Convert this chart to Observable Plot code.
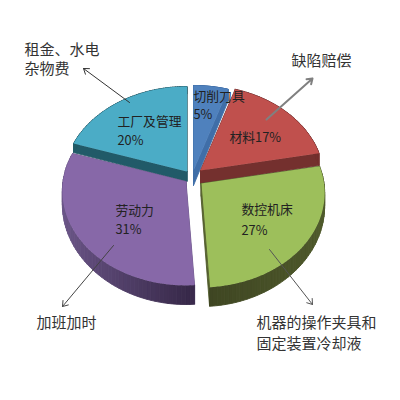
<!DOCTYPE html>
<html>
<head>
<meta charset="utf-8">
<style>html,body{margin:0;padding:0;background:#fff}svg{display:block}</style>
<script src="https://cdn.jsdelivr.net/npm/d3@7"></script>
<script src="https://cdn.jsdelivr.net/npm/@observablehq/plot@0.6"></script>
</head>
<body>
<div id="chart"></div>
<script>
// Data
const categories = ["切削刀具", "材料", "数控机床", "劳动力", "工厂及管理"];
const shares = [5, 17, 27, 31, 20];
const innerName = ["切削刀具", "材料17%", "数控机床", "劳动力", "工厂及管理"];
const innerPct = ["5%", "", "27%", "31%", "20%"];
const outerLabels = ["租金、水电", "杂物费", "缺陷赔偿", "加班加时", "机器的操作夹具和", "固定装置冷却液"];

// Styles
const topColors = ["#4f81bd", "#c0504d", "#9dbf5b", "#8768a8", "#4bacc6"];
const wallLight = ["#3f6ea8", "#74302e", "#505b2c", "#6c5789", "#215a68"];
const wallDark = ["#3f6ea8", "#6a2a2a", "#3e4522", "#38294a", "#1f5360"];

// Pie geometry (tilted disc with mild perspective, exploded slices)
const RX = 123, RY = 93.5, K = 0.1, KH = 0.32;
const wallH = [15, 13, 13, 13, 10];
const centre = [193, 176];
const explodeX = [0, 7, 7.5, -7.5, -6.5];
const explodeY = [-6, -6, 7, 5, -5];

const pie = d3.pie().sort(null).startAngle(0).endAngle(2 * Math.PI)(shares);

function pt(i, a, r, low) {
  const z = r * Math.cos(a), w = 1 + K * z;
  return {
    x: centre[0] + explodeX[i] + RX * r * Math.sin(a) / w,
    y: centre[1] + explodeY[i] - RY * z / w + (low ? wallH[i] / (1 + KH * z) : 0)
  };
}
function arcAngles(s) {
  return d3.range(0, 61).map(j => s.startAngle + (s.endAngle - s.startAngle) * j / 60);
}
const marks = [];
for (const i of [4, 0, 1, 3, 2]) {
  const s = pie[i], ang = arcAngles(s);
  const walls = [];
  let seg = 0;
  const addQuad = (p, q, fill) => {
    seg++;
    const a = pt(i, p[0], p[1], false);
    for (const c of [a, pt(i, q[0], q[1], false), pt(i, q[0], q[1], true), pt(i, p[0], p[1], true), a])
      walls.push({...c, seg, fill});
  };
  addQuad([s.startAngle, 0], [s.startAngle, 1], wallLight[i]);
  addQuad([s.endAngle, 0], [s.endAngle, 1], wallLight[i]);
  const mix = d3.interpolateRgb(wallLight[i], wallDark[i]);
  ang.slice(1).forEach((a, j) => {
    const t = 1 - Math.abs(Math.sin(a));
    addQuad([ang[j], 1], [a, 1], mix(t));
  });
  marks.push(Plot.line(walls, {x: "x", y: "y", z: "seg", fill: "fill", stroke: "fill", strokeWidth: 0.9}));
  const face = [pt(i, 0, 0, false), ...ang.map(a => pt(i, a, 1, false))];
  face.push(face[0]);
  marks.push(Plot.line(face, {x: "x", y: "y", fill: topColors[i], stroke: "none"}));
  if (i === 2) {
    marks.push(Plot.line([pt(i, s.endAngle, 0, false), pt(i, s.endAngle, 1, false)], {x: "x", y: "y", stroke: "#5a6630", strokeWidth: 1}));
  }
}

// Leaders
const leaders = [
  {x1: 129, y1: 102, x2: 83, y2: 68, c: "#333", w: 1},
  {x1: 266, y1: 119, x2: 312, y2: 78, c: "#808080", w: 2},
  {x1: 113, y1: 245, x2: 62, y2: 306, c: "#444", w: 1},
  {x1: 269, y1: 249, x2: 312, y2: 304, c: "#555", w: 1}
];
marks.push(Plot.arrow(leaders, {x1: "x1", y1: "y1", x2: "x2", y2: "y2", stroke: "c", strokeWidth: "w", bend: 0, headLength: 9, headAngle: 70}));

// Text
const font = {fontFamily: "'Noto Sans CJK SC','Noto Sans',sans-serif", textAnchor: "start", lineAnchor: "middle"};
const innerNameX = [193, 229, 241, 115, 117], innerNameY = [96.5, 137, 209, 210, 121];
const innerPctX = [193, 229, 241, 115, 117], innerPctY = [114.5, 137, 230, 229, 140];
marks.push(Plot.text(innerName, {...font, x: (d, i) => innerNameX[i], y: (d, i) => innerNameY[i], text: d => d, fontSize: 12.8, fill: "#222"}));
marks.push(Plot.text(innerPct, {...font, x: (d, i) => innerPctX[i], y: (d, i) => innerPctY[i], text: d => d, fontSize: 12.8, fill: "#222"}));
const outerX = [24, 24, 291, 36, 256, 256], outerY = [50, 69, 61, 323, 323, 344];
marks.push(Plot.text(outerLabels, {...font, x: (d, i) => outerX[i], y: (d, i) => outerY[i], text: d => d, fontSize: 15, fill: "#333"}));

const chart = Plot.plot({
  width: 400, height: 400, margin: 0,
  x: {domain: [0, 400], axis: null},
  y: {domain: [400, 0], axis: null},
  color: {type: "identity"},
  style: {background: "#fff"},
  marks
});
document.getElementById("chart").append(chart);
</script>
</body>
</html>
